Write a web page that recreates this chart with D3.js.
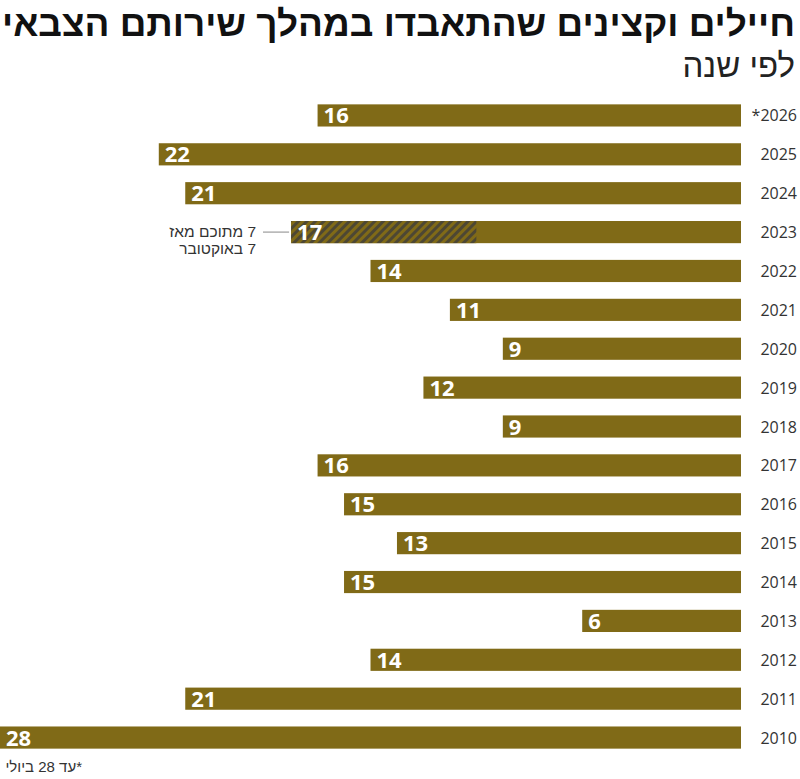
<html>
<head>
<meta charset="utf-8">
<script src="https://d3js.org/d3.v7.min.js"></script>
<style>
  body { margin: 0; background: #fff; }
  svg { display: block; }
</style>
</head>
<body>
<svg width="800" height="779"></svg>
<script>
const years = ['*2026', '2025', '2024', '2023', '2022', '2021', '2020', '2019', '2018',
               '2017', '2016', '2015', '2014', '2013', '2012', '2011', '2010'];
const values = [16, 22, 21, 17, 14, 11, 9, 12, 9, 16, 15, 13, 15, 6, 14, 21, 28];
// part of 2023 that came after 7 October
const hatchedYear = '2023';
const hatchedValue = 7;

const titleText = 'חיילים וקצינים שהתאבדו במהלך שירותם הצבאי';
const subtitleText = 'לפי שנה';
const noteLines = ['7 מתוכם מאז', '7 באוקטובר'];
const footnoteText = '*עד 28 ביולי';

const data = years.map((y, i) => ({ year: y, value: values[i] }));

const svg = d3.select('svg');
const barColor = '#806a17';
const hebFont = '"Liberation Sans", "DejaVu Sans", sans-serif';

const x = d3.scaleLinear().domain([0, 28]).range([741, 0]);
const y = d3.scaleBand().domain(years).range([96, 757])
    .paddingInner(0.43).paddingOuter(0.215);

// hatch pattern
const defs = svg.append('defs');
const pat = defs.append('pattern')
    .attr('id', 'hatch')
    .attr('patternUnits', 'userSpaceOnUse')
    .attr('width', 6).attr('height', 6)
    .attr('patternTransform', 'rotate(45)');
pat.append('rect').attr('width', 6).attr('height', 6).attr('fill', barColor);
pat.append('rect').attr('width', 3).attr('height', 6).attr('fill', '#4d4733');

// title (rtl: start = right edge)
svg.append('text')
    .attr('x', 795).attr('y', 36)
    .attr('text-anchor', 'start')
    .attr('direction', 'rtl')
    .attr('font-family', hebFont)
    .attr('font-weight', 'bold')
    .attr('font-size', 36)
    .attr('textLength', 793)
    .attr('lengthAdjust', 'spacingAndGlyphs')
    .attr('fill', '#111')
    .text(titleText);

svg.append('text')
    .attr('x', 795).attr('y', 77)
    .attr('text-anchor', 'start')
    .attr('direction', 'rtl')
    .attr('font-family', hebFont)
    .attr('font-size', 33)
    .attr('fill', '#222')
    .text(subtitleText);

const rows = svg.append('g');

rows.selectAll('rect.bar').data(data)
  .join('rect')
    .attr('class', 'bar')
    .attr('x', d => x(d.value))
    .attr('y', d => y(d.year))
    .attr('width', d => x(0) - x(d.value))
    .attr('height', y.bandwidth())
    .attr('fill', barColor);

// hatched part of 2023
const h = data.find(d => d.year === hatchedYear);
rows.append('rect')
    .attr('x', x(h.value))
    .attr('y', y(h.year))
    .attr('width', x(h.value - hatchedValue) - x(h.value))
    .attr('height', y.bandwidth())
    .attr('fill', 'url(#hatch)');

rows.selectAll('text.val').data(data)
  .join('text')
    .attr('class', 'val')
    .attr('x', d => x(d.value) + 6)
    .attr('y', d => y(d.year) + y.bandwidth() / 2 + 8)
    .attr('font-family', '"Open Sans", sans-serif')
    .attr('font-weight', 'bold')
    .attr('font-size', 22)
    .attr('fill', '#fff')
    .text(d => d.value);

rows.selectAll('text.year').data(data)
  .join('text')
    .attr('class', 'year')
    .attr('x', 797)
    .attr('y', d => y(d.year) + y.bandwidth() / 2 + 6)
    .attr('text-anchor', 'end')
    .attr('font-family', '"Open Sans", sans-serif')
    .attr('font-size', 16)
    .attr('fill', '#333')
    .text(d => d.year);

// annotation
const cy = y(hatchedYear) + y.bandwidth() / 2;
svg.append('line')
    .attr('x1', 263).attr('x2', x(h.value) - 2)
    .attr('y1', cy).attr('y2', cy)
    .attr('stroke', '#888').attr('stroke-width', 1);

svg.selectAll('text.note').data(noteLines)
  .join('text')
    .attr('class', 'note')
    .attr('x', 256)
    .attr('y', (d, i) => cy + 5 + i * 17)
    .attr('text-anchor', 'start')
    .attr('direction', 'rtl')
    .attr('font-family', hebFont)
    .attr('font-size', 15.5)
    .attr('fill', '#333')
    .text(d => d);

svg.append('text')
    .attr('x', 82).attr('y', 772)
    .attr('text-anchor', 'start')
    .attr('direction', 'rtl')
    .attr('font-family', hebFont)
    .attr('font-size', 15)
    .attr('fill', '#333')
    .text(footnoteText);
</script>
</body>
</html>
